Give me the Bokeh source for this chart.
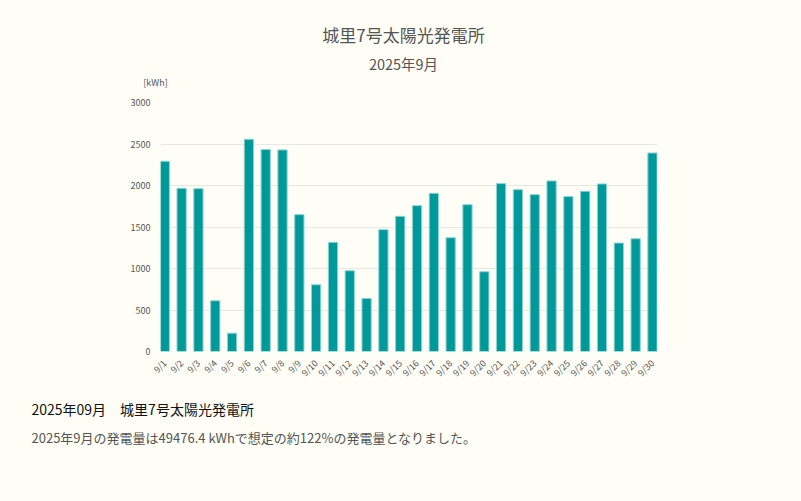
from bokeh.plotting import figure
from bokeh.models import ColumnDataSource, Label, FixedTicker, Range1d, GlobalInlineStyleSheet
from bokeh.layouts import column, row
from bokeh.embed import file_html
from bokeh.resources import INLINE
import math

# ---- data ----
days = list(range(1, 31))
day_labels = [f"9/{d}" for d in days]
kwh = [2292, 1966, 1962, 611, 221, 2557, 2433, 2429, 1649, 804,
       1315, 973, 639, 1468, 1629, 1757, 1906, 1371, 1769, 961,
       2023, 1950, 1890, 2055, 1866, 1930, 2019, 1307, 1359, 2392]
y_ticks = [0, 500, 1000, 1500, 2000, 2500, 3000]
title_text = "城里7号太陽光発電所"
subtitle_text = "2025年9月"
unit_text = "[kWh]"
footer_title = "2025年09月　城里7号太陽光発電所"
footer_body = "2025年9月の発電量は49476.4 kWhで想定の約122%の発電量となりました。"

BG = "#FEFEF6"
BAR = "#009999"
FONT = "Noto Sans CJK JP"
W = 800
HEAD_H, CHART_H, FOOT_H = 92, 298, 110


def text_panel(height):
    f = figure(width=W, height=height, output_backend="svg", toolbar_location=None,
               x_axis_type=None, y_axis_type=None,
               x_range=Range1d(0, W), y_range=Range1d(height, 0),
               min_border=0)
    f.background_fill_color = BG
    f.border_fill_color = BG
    f.outline_line_color = None
    f.xgrid.visible = False
    f.ygrid.visible = False
    return f


def add_label(f, text, x, y, size, color, align="left"):
    f.add_layout(Label(x=x, y=y, text=text, text_font=FONT, text_font_size=size,
                       text_color=color, text_align=align, text_baseline="middle"))


# ---- header ----
head = text_panel(HEAD_H)
head.stylesheets = [GlobalInlineStyleSheet(css=f"body{{background:{BG};}}")]
add_label(head, title_text, 403, 34, "17px", "#555555", align="center")
add_label(head, subtitle_text, 403, 63, "14.5px", "#555555", align="center")
add_label(head, unit_text, 155, 82, "9px", "#555555", align="center")

# ---- chart ----
src = ColumnDataSource(dict(x=days, y=kwh))
p = figure(width=W, height=CHART_H, output_backend="svg", toolbar_location=None,
           x_range=(0.744, 30.30), y_range=(0, 3000),
           min_border_left=160, min_border_right=W - 657,
           min_border_top=102 - HEAD_H, min_border_bottom=HEAD_H + CHART_H - 351)
p.background_fill_color = BG
p.border_fill_color = BG
p.outline_line_color = None

p.vbar(x="x", top="y", width=0.55, source=src, fill_color=BAR,
       line_color="#8fd3d3", line_width=1)

p.xaxis.ticker = FixedTicker(ticks=days)
p.xaxis.major_label_overrides = {d: lab for d, lab in zip(days, day_labels)}
p.xaxis.major_label_orientation = math.pi / 4
p.xaxis.axis_line_color = None
p.xaxis.major_tick_line_color = None
p.xaxis.minor_tick_line_color = None
p.xaxis.major_label_text_font = FONT
p.xaxis.major_label_text_font_size = "9px"
p.xaxis.major_label_text_color = "#555555"
p.xaxis.major_label_standoff = 4

p.yaxis.ticker = FixedTicker(ticks=y_ticks)
p.yaxis.axis_line_color = None
p.yaxis.major_tick_line_color = None
p.yaxis.minor_tick_line_color = None
p.yaxis.major_label_text_font = FONT
p.yaxis.major_label_text_font_size = "9px"
p.yaxis.major_label_text_color = "#555555"
p.yaxis.major_label_standoff = 4

p.xgrid.grid_line_color = None
p.ygrid.grid_line_color = "#e8e8e2"
p.ygrid.grid_line_width = 1

# ---- footer ----
foot = text_panel(FOOT_H)
add_label(foot, footer_title, 31, 18, "14px", "#111111")
add_label(foot, footer_body, 31, 47, "13px", "#555555")

layout = column(head, row(p), foot, spacing=0)
layout.styles = {"background-color": BG}
open("out.html", "w").write(file_html(layout, INLINE))
